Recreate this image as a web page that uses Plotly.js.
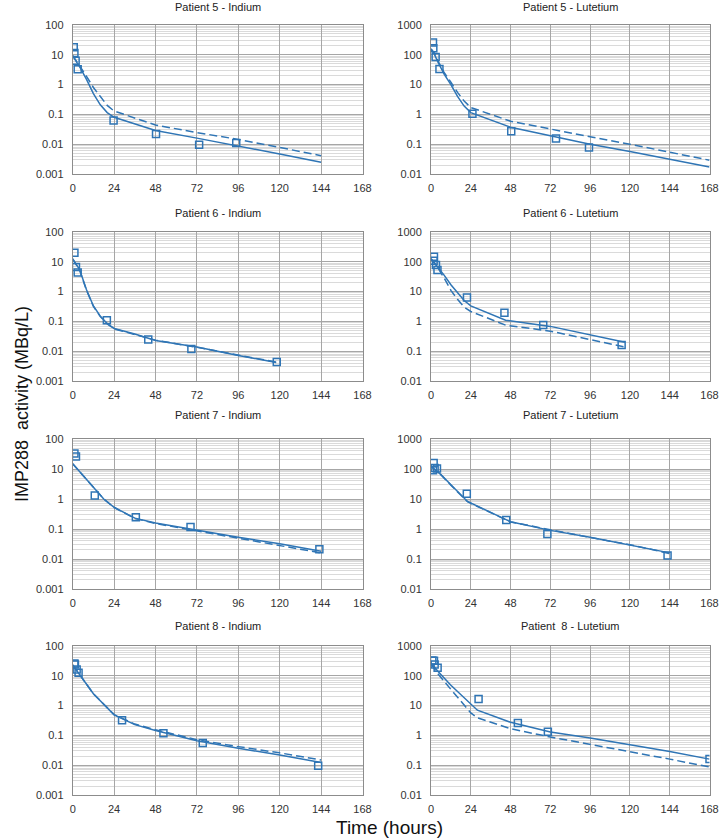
<!DOCTYPE html>
<html>
<head>
<meta charset="utf-8">
<script src="https://cdn.plot.ly/plotly-3.0.1.min.js"></script>
<style>
  html, body { margin: 0; padding: 0; background: #fff; }
  #chart { width: 722px; height: 840px; }
</style>
</head>
<body>
<div id="chart"></div>
<script>
// axis ticks
const hourTicks = [0, 24, 48, 72, 96, 120, 144, 168];
const indiumTicks = [0.001, 0.01, 0.1, 1, 10, 100];
const indiumTickText = ['0.001', '0.01', '0.1', '1', '10', '100'];
const lutetiumTicks = [0.01, 0.1, 1, 10, 100, 1000];
const lutetiumTickText = ['0.01', '0.1', '1', '10', '100', '1000'];

// Patient 5 - Indium
const p5InMeasT = [0.6, 1, 1.7, 2.9, 23.7, 48.3, 73.3, 94.8];
const p5InMeasV = [18, 11.4, 6.3, 3.3, 0.063, 0.022, 0.0095, 0.011];
const p5InFitT = [0, 2, 4, 8, 12, 16, 20, 24, 48, 72, 96, 120, 144];
const p5InSolid = [9, 6, 4, 1.5, 0.5, 0.21, 0.115, 0.08, 0.029, 0.016, 0.0088, 0.0047, 0.0025];
const p5InDashed = [9.5, 6.5, 4.2, 1.9, 0.8, 0.4, 0.2, 0.13, 0.044, 0.0245, 0.0145, 0.0078, 0.0041];

// Patient 5 - Lutetium
const p5LuMeasT = [1.2, 1.4, 2.8, 5.1, 25, 48.4, 75.4, 95.3];
const p5LuMeasV = [260, 167, 85, 33.5, 1.05, 0.27, 0.155, 0.078];
const p5LuFitT = [0, 2, 4, 8, 12, 16, 20, 24, 48, 72, 96, 120, 144, 168];
const p5LuSolid = [150, 105, 60, 22, 10, 4, 1.9, 1.15, 0.37, 0.19, 0.1, 0.057, 0.031, 0.0173];
const p5LuDashed = [160, 115, 65, 25, 12, 5.5, 2.8, 1.7, 0.59, 0.32, 0.178, 0.1, 0.055, 0.029];

// Patient 6 - Indium
const p6InMeasT = [1, 1.9, 2.9, 19.8, 43.8, 68.8, 118.3];
const p6InMeasV = [20, 6.7, 4.4, 0.11, 0.0246, 0.0118, 0.0043];
const p6InFitT = [0, 4, 8, 12, 16, 20, 24, 36, 48, 72, 96, 118];
const p6InSolid = [12.6, 5.5, 1.15, 0.33, 0.15, 0.085, 0.058, 0.038, 0.023, 0.0139, 0.0072, 0.0042];
const p6InDashed = [12.4, 5.3, 1.1, 0.32, 0.145, 0.083, 0.056, 0.036, 0.0235, 0.0135, 0.0074, 0.0043];

// Patient 6 - Lutetium
const p6LuMeasT = [1.8, 1.6, 3, 3.9, 21.7, 44.3, 67.7, 115];
const p6LuMeasV = [147, 108, 78, 53, 6.3, 1.95, 0.76, 0.163];
const p6LuFitT = [0, 4, 8, 12, 16, 20, 24, 45, 72, 96, 117];
const p6LuSolid = [129, 68, 35, 17, 9, 5, 3.3, 1.1, 0.68, 0.36, 0.2];
const p6LuDashed = [125, 65, 28, 11, 5.5, 3, 2.15, 0.75, 0.47, 0.245, 0.138];

// Patient 7 - Indium
const p7InMeasT = [1, 1.9, 12.8, 36.6, 68.3, 143];
const p7InMeasV = [33, 26, 1.32, 0.245, 0.117, 0.021];
const p7InFitT = [0, 6, 12, 18, 24, 36, 48, 72, 96, 120, 144];
const p7InSolid = [15, 6, 2.3, 1.0, 0.53, 0.23, 0.158, 0.09, 0.053, 0.032, 0.018];
const p7InDashed = [15, 6, 2.3, 1.0, 0.52, 0.225, 0.152, 0.086, 0.05, 0.029, 0.016];

// Patient 7 - Lutetium
const p7LuMeasT = [1.2, 1.6, 2.2, 3.6, 21.6, 45.4, 70.2, 142.7];
const p7LuMeasV = [91, 158, 108, 103, 15, 2.0, 0.68, 0.132];
const p7LuFitT = [0, 6, 12, 18, 22, 48, 72, 96, 120, 144];
const p7LuSolid = [123, 65, 30, 14, 8.3, 1.74, 0.9, 0.53, 0.29, 0.16];
const p7LuDashed = [120, 64, 29, 13.5, 8.1, 1.72, 0.93, 0.52, 0.3, 0.152];

// Patient 8 - Indium
const p8InMeasT = [1, 1.3, 2.3, 3.4, 28.6, 52.6, 75.4, 142.3];
const p8InMeasV = [26, 24, 16.4, 12.6, 0.32, 0.118, 0.056, 0.0095];
const p8InFitT = [0, 4, 12, 24, 36, 48, 72, 96, 120, 144];
const p8InSolid = [23, 11.3, 2.5, 0.49, 0.23, 0.146, 0.066, 0.037, 0.022, 0.0123];
const p8InDashed = [23, 11.3, 2.5, 0.5, 0.24, 0.155, 0.072, 0.042, 0.026, 0.0149];

// Patient 8 - Lutetium
const p8LuMeasT = [0.8, 1.8, 2.2, 4, 28.7, 52.4, 70.5, 168];
const p8LuMeasV = [326, 320, 240, 185, 16.5, 2.6, 1.32, 0.16];
const p8LuFitT = [0, 4, 12, 24, 28, 48, 72, 96, 120, 144, 168];
const p8LuSolid = [270, 145, 48, 11.3, 7, 2.75, 1.3, 0.82, 0.49, 0.29, 0.16];
const p8LuDashed = [250, 120, 35, 5.7, 3.9, 1.67, 0.885, 0.51, 0.29, 0.16, 0.087];

const lineColor = '#2f75b5';
const fontFamily = '"Liberation Sans", Arial, sans-serif';

// panel layout (pixel boxes on a 722x840 page)
const W = 722, H = 840;
const colX = [[72.7, 362.5], [431, 709.5]];
const rowY = [[25, 174], [232, 381], [439, 589], [646, 795]];
const titleY = [7, 213, 415, 626];

const panels = [
  { title: 'Patient 5 - Indium', row: 0, col: 0, lu: false, mt: p5InMeasT, mv: p5InMeasV, ft: p5InFitT, s: p5InSolid, d: p5InDashed },
  { title: 'Patient 5 - Lutetium', row: 0, col: 1, lu: true, mt: p5LuMeasT, mv: p5LuMeasV, ft: p5LuFitT, s: p5LuSolid, d: p5LuDashed },
  { title: 'Patient 6 - Indium', row: 1, col: 0, lu: false, mt: p6InMeasT, mv: p6InMeasV, ft: p6InFitT, s: p6InSolid, d: p6InDashed },
  { title: 'Patient 6 - Lutetium', row: 1, col: 1, lu: true, mt: p6LuMeasT, mv: p6LuMeasV, ft: p6LuFitT, s: p6LuSolid, d: p6LuDashed },
  { title: 'Patient 7 - Indium', row: 2, col: 0, lu: false, mt: p7InMeasT, mv: p7InMeasV, ft: p7InFitT, s: p7InSolid, d: p7InDashed },
  { title: 'Patient 7 - Lutetium', row: 2, col: 1, lu: true, mt: p7LuMeasT, mv: p7LuMeasV, ft: p7LuFitT, s: p7LuSolid, d: p7LuDashed },
  { title: 'Patient 8 - Indium', row: 3, col: 0, lu: false, mt: p8InMeasT, mv: p8InMeasV, ft: p8InFitT, s: p8InSolid, d: p8InDashed },
  { title: 'Patient\u00a0\u00a08 - Lutetium', row: 3, col: 1, lu: true, mt: p8LuMeasT, mv: p8LuMeasV, ft: p8LuFitT, s: p8LuSolid, d: p8LuDashed }
];

const traces = [];
const layout = {
  width: W, height: H,
  margin: { l: 0, r: 0, t: 0, b: 0 },
  paper_bgcolor: 'white',
  plot_bgcolor: 'white',
  showlegend: false,
  font: { family: fontFamily, size: 11, color: '#333' },
  annotations: []
};

panels.forEach((p, i) => {
  const n = i + 1;
  const xa = 'x' + (n === 1 ? '' : n);
  const ya = 'y' + (n === 1 ? '' : n);

  traces.push({
    x: p.ft, y: p.d, xaxis: xa, yaxis: ya, type: 'scatter', mode: 'lines',
    line: { color: lineColor, width: 1.5, dash: '8px,4px' }, hoverinfo: 'skip'
  });
  traces.push({
    x: p.ft, y: p.s, xaxis: xa, yaxis: ya, type: 'scatter', mode: 'lines',
    line: { color: lineColor, width: 1.5 }
  });
  traces.push({
    x: p.mt, y: p.mv, xaxis: xa, yaxis: ya, type: 'scatter', mode: 'markers',
    marker: { symbol: 'square-open', size: 7, color: lineColor, line: { width: 1.5, color: lineColor } }
  });

  const [x0, x1] = colX[p.col];
  const [y0, y1] = rowY[p.row];

  layout['xaxis' + (n === 1 ? '' : n)] = {
    domain: [x0 / W, x1 / W],
    anchor: ya,
    range: [0, 168],
    tickmode: 'array', tickvals: hourTicks,
    showgrid: true, gridcolor: '#a6a6a6', gridwidth: 1,
    zeroline: false,
    showline: true, mirror: true, linecolor: '#8c8c8c', linewidth: 1,
    ticks: '', ticklabelstandoff: 4,
    tickfont: { family: fontFamily, size: 11, color: '#333' }
  };
  layout['yaxis' + (n === 1 ? '' : n)] = {
    domain: [1 - y1 / H, 1 - y0 / H],
    anchor: xa,
    type: 'log',
    range: p.lu ? [-2, 3] : [-3, 2],
    tickmode: 'array',
    tickvals: p.lu ? lutetiumTicks : indiumTicks,
    ticktext: p.lu ? lutetiumTickText : indiumTickText,
    showgrid: true, gridcolor: '#a6a6a6', gridwidth: 1,
    minor: { tickmode: 'linear', dtick: 'D1', showgrid: true, gridcolor: '#dadada', gridwidth: 1, ticks: '' },
    zeroline: false,
    showline: true, mirror: true, linecolor: '#8c8c8c', linewidth: 1,
    ticks: '', ticklabelstandoff: 6,
    tickfont: { family: fontFamily, size: 11, color: '#333' }
  };

  layout.annotations.push({
    text: p.title, xref: 'paper', yref: 'paper',
    x: (x0 + x1) / 2 / W, y: 1 - titleY[p.row] / H,
    xanchor: 'center', yanchor: 'middle', showarrow: false,
    font: { family: fontFamily, size: 11, color: '#222' }
  });
});

// shared axis titles
layout.annotations.push({
  text: 'IMP288\u00a0\u00a0activity (MBq/L)', xref: 'paper', yref: 'paper',
  x: 22 / W, y: 1 - 404 / H, xanchor: 'center', yanchor: 'middle',
  textangle: -90, showarrow: false,
  font: { family: fontFamily, size: 18, color: '#111' }
});
layout.annotations.push({
  text: 'Time (hours)', xref: 'paper', yref: 'paper',
  x: 390 / W, y: 1 - 827 / H, xanchor: 'center', yanchor: 'middle',
  showarrow: false,
  font: { family: fontFamily, size: 19, color: '#111' }
});

Plotly.newPlot('chart', traces, layout, { displayModeBar: false, staticPlot: true });
</script>
</body>
</html>
